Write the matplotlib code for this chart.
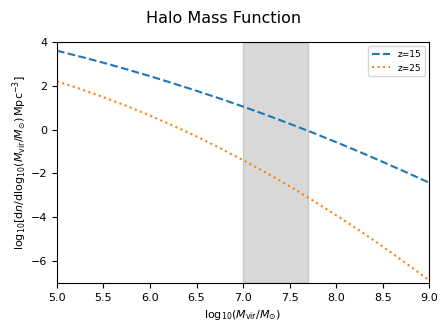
import matplotlib
matplotlib.use("Agg")
import matplotlib.pyplot as plt

# log10(M_vir / M_sun)
log_mass = [5.0, 5.25, 5.5, 5.75, 6.0, 6.25, 6.5, 6.75, 7.0,
            7.25, 7.5, 7.75, 8.0, 8.25, 8.5, 8.75, 9.0]

# log10 dn/dlog10 M  [Mpc^-3]
hmf_z15 = [3.60, 3.33, 3.05, 2.75, 2.44, 2.11, 1.77, 1.42, 1.05,
           0.67, 0.27, -0.14, -0.57, -1.01, -1.47, -1.94, -2.42]
hmf_z25 = [2.20, 1.86, 1.48, 1.08, 0.64, 0.18, -0.31, -0.84, -1.39,
           -1.97, -2.58, -3.23, -3.90, -4.60, -5.33, -6.09, -6.87]

band = (7.0, 7.7)

plt.rcParams['font.size'] = 8

fig, ax = plt.subplots(figsize=(4.48, 3.30), dpi=100)
fig.subplots_adjust(left=0.127, right=0.958, top=0.873, bottom=0.142)

ax.axvspan(band[0], band[1], color='gray', alpha=0.3)
ax.plot(log_mass, hmf_z15, '--', color='C0', label='z=15')
ax.plot(log_mass, hmf_z25, ':', color='C1', label='z=25')

ax.set_xlim(5, 9)
ax.set_ylim(-7, 4)
ax.set_xlabel(r'${\rm log}_{10}(M_{\rm vir}/M_{\odot})$')
ax.set_ylabel(r'${\rm log}_{10}[{\rm d}n/{\rm dlog}_{10}(M_{\rm vir}/M_{\odot})\,{\rm Mpc}^{-3}]$',
              labelpad=1.5)
fig.suptitle('Halo Mass Function', fontsize=11.5, y=0.968)
ax.legend(loc='upper right', fontsize=6.5)

fig.savefig('out.png')
